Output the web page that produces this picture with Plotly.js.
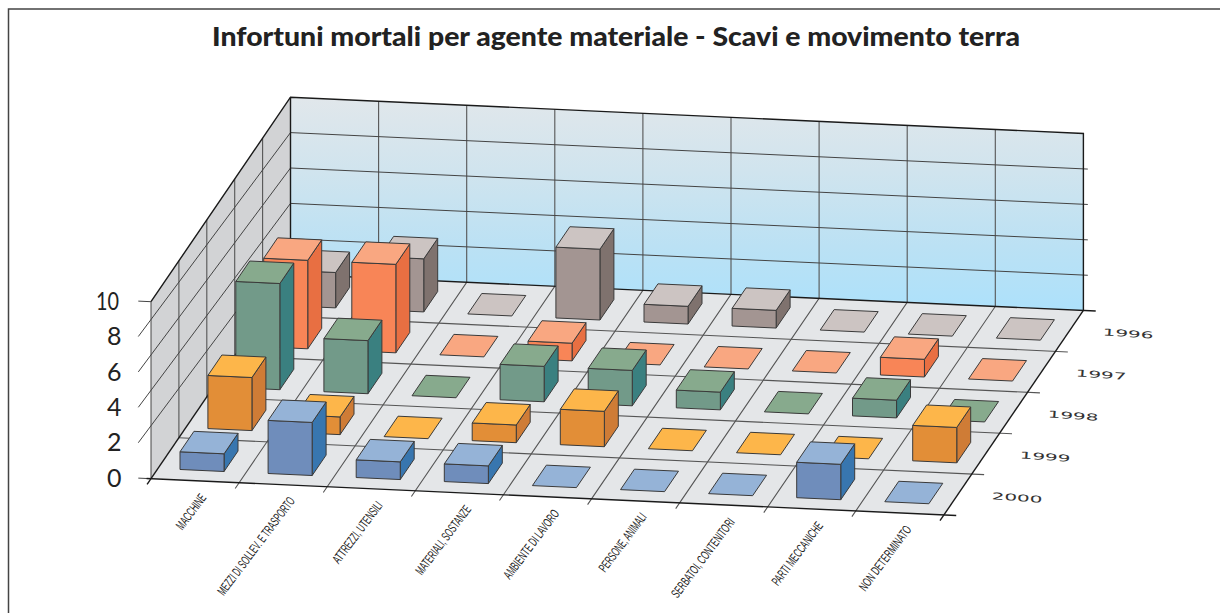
<!DOCTYPE html>
<html>
<head>
<meta charset="utf-8">
<script src="https://cdn.plot.ly/plotly-3.0.1.min.js"></script>
<style>html,body{margin:0;padding:0;background:#fff}#chart{width:1220px;height:613px}</style>
</head>
<body>
<div id="chart"></div>
<script>
const titleText = 'Infortuni mortali per agente materiale - Scavi e movimento terra';
const categories = ['MACCHINE','MEZZI DI SOLLEV. E TRASPORTO','ATTREZZI, UTENSILI','MATERIALI, SOSTANZE','AMBIENTE DI LAVORO','PERSONE, ANIMALI','SERBATOI, CONTENITORI','PARTI MECCANICHE','NON DETERMINATO'];
const years = ['2000','1999','1998','1997','1996'];
const values2000 = [1,3,1,1,0,0,0,2,0];
const values1999 = [3,1,0,1,2,0,0,0,2];
const values1998 = [6,3,0,2,2,1,0,1,0];
const values1997 = [5,5,0,1,0,0,0,1,0];
const values1996 = [2,3,0,4,1,1,0,0,0];
const zTicks = [0,2,4,6,8,10];
const rowValues = [values2000,values1999,values1998,values1997,values1996];

const palette = [
  {top:'#95B3D7',front:'#6F8DBB',side:'#3876AF'},
  {top:'#FDB64A',front:'#E28E37',side:'#CF7C36'},
  {top:'#87AA8D',front:'#729A89',side:'#3A8080'},
  {top:'#F9A781',front:'#F88557',side:'#E86F42'},
  {top:'#CCC4C2',front:'#A39592',side:'#7F726E'}
];
// drawn length of each squeezed category label, in px
const labelLengths = [41,119,74,83,83,70,96,76,78];

// Oblique projection of the chart's own axes (category, year, value) to the page
const proj = (u,v,z) => [151 + 88.1*u + 27.9*v, 478.7 + 4.03*u - 40.9*v - 17.7*z];
const nU = categories.length, nV = years.length, zMax = 10;

function polys(list){
  const x=[],y=[];
  list.forEach(p=>{ p.forEach(q=>{const a=proj(q[0],q[1],q[2]);x.push(a[0]);y.push(a[1]);}); x.push(null);y.push(null); });
  return {x,y};
}
function closed(pts){ return pts.concat([pts[0]]); }
function fillTrace(list,fill,lineColor,width,name){
  return Object.assign(polys(list),{type:'scatter',mode:'lines',fill:'toself',fillcolor:fill,
    line:{color:lineColor,width:width},hoverinfo:'skip',name:name});
}
function lineTrace(list,color,width,name){
  return Object.assign(polys(list),{type:'scatter',mode:'lines',line:{color:color,width:width},hoverinfo:'skip',name:name});
}

const traces=[];
// back wall with gradient
traces.push(Object.assign(polys([closed([[0,nV,0],[nU,nV,0],[nU,nV,zMax],[0,nV,zMax]])]),{
  type:'scatter',mode:'lines',fill:'toself',line:{color:'rgba(0,0,0,0)',width:0},hoverinfo:'skip',name:'wall',
  fillgradient:{type:'vertical',colorscale:[[0,'#ADE1FB'],[0.3,'#BBE1F4'],[0.65,'#D0E4EE'],[1,'#E1E7EB']]}
}));
traces[0].x = traces[0].x.filter(a=>a!==null); traces[0].y = traces[0].y.filter(a=>a!==null);
traces.push(fillTrace([closed([[0,0,0],[0,nV,0],[0,nV,zMax],[0,0,zMax]])],'#D2D3D5','rgba(0,0,0,0)',0,'side wall'));
traces.push(fillTrace([closed([[0,0,0],[nU,0,0],[nU,nV,0],[0,nV,0]])],'#E4E6E8','rgba(0,0,0,0)',0,'floor'));

// grid
const grid=[];
for(let i=1;i<nU;i++){ grid.push([[i,-0.14,0],[i,nV,0],[i,nV,zMax]]); }
for(let j=1;j<nV;j++){ grid.push([[0,j,0],[0,j,zMax]]); grid.push([[0,j,0],[nU+0.14,j,0]]); }
traces.push(lineTrace(grid,'#555',1.1,'grid'));
const zGrid=[];
zTicks.forEach(z=>{ if(z>0 && z<zMax) zGrid.push([[-0.144,0,z],[0,nV,z],[nU+0.05,nV,z]]); });
zGrid.push([[-0.144,0,zMax],[0,0,zMax]]);
zGrid.push([[-0.144,0,0],[0,0,0]]);
zGrid.push([[0,0,0],[0,0,zMax]]);
traces.push(lineTrace(zGrid,'#444',1,'value grid'));
// frame of the box
traces.push(lineTrace([
  [[0,0,zMax],[0,nV,zMax],[nU,nV,zMax],[nU,nV,0]],
  [[0,nV,zMax],[0,nV,0],[nU+0.14,nV,0]],
  [[0,-0.14,0],[0,0,0],[0,nV,0]],
  [[-0.05,0,0],[nU+0.14,0,0]],
  [[nU,-0.14,0],[nU,nV,0]]
],'#1a1a1a',1.4,'box'));

// bars, back to front
const lo=0.25, hi=0.75;
for(let r=nV-1;r>=0;r--){
  const fronts=[],sides=[],tops=[];
  rowValues[r].forEach((val,i)=>{
    const a=i+lo,b=i+hi,c=r+lo,d=r+hi;
    if(val>0){
      fronts.push(closed([[a,c,0],[b,c,0],[b,c,val],[a,c,val]]));
      sides.push(closed([[b,c,0],[b,d,0],[b,d,val],[b,c,val]]));
    }
    tops.push(closed([[a,c,val],[b,c,val],[b,d,val],[a,d,val]]));
  });
  const edge='#3a3a3a';
  if(sides.length) traces.push(fillTrace(sides,palette[r].side,edge,1,years[r]+' side'));
  if(fronts.length) traces.push(fillTrace(fronts,palette[r].front,edge,1,years[r]+' front'));
  traces.push(fillTrace(tops,palette[r].top,edge,1,years[r]+' top'));
}
// outer frame of the page figure
traces.push({type:'scatter',mode:'lines',x:[8.5,8.5,1220],y:[613,9,9],line:{color:'#444',width:1.5},hoverinfo:'skip',name:'frame'});

const annotations=[];
zTicks.forEach(z=>{
  const p=proj(0,0,z);
  annotations.push({x:124,y:p[1]-2,xref:'x',yref:'y',text:String(z),showarrow:false,xanchor:'right',yanchor:'middle',
    font:{family:'Lato',size:25,color:'#222'}});
});
const labelAngle=53, cosA=Math.cos(labelAngle*Math.PI/180), sinA=Math.sin(labelAngle*Math.PI/180);
categories.forEach((c,i)=>{
  const p=proj(i+0.65,0,0), L=labelLengths[i];
  annotations.push({x:p[0]-(L*cosA+10)/2,y:p[1]+12+(L*sinA+3)/2,xref:'x',yref:'y',text:c,showarrow:false,
    xanchor:'center',yanchor:'middle',textangle:-labelAngle,
    font:{family:'Liberation Sans',size:13,color:'#222'}});
});
years.forEach((t,j)=>{
  const p=proj(nU,j+0.5,0);
  annotations.push({x:p[0]+59,y:p[1]+3,xref:'x',yref:'y',text:t,showarrow:false,xanchor:'center',yanchor:'middle',textangle:4,
    font:{family:'DejaVu Sans',size:9.5,color:'#333'}});
});

const layout={
  width:1220,height:613,margin:{l:0,r:0,t:0,b:0},paper_bgcolor:'#fff',plot_bgcolor:'#fff',showlegend:false,
  title:{text:titleText,x:616/1220,xanchor:'center',y:1-37/613,yanchor:'middle',yref:'container',
    font:{family:'Lato',size:26,weight:900,color:'#222'}},
  xaxis:{range:[0,1220],visible:false,fixedrange:true},
  yaxis:{range:[613,0],visible:false,fixedrange:true},
  annotations:annotations
};
function squeeze(t,len){ t.setAttribute('textLength',String(len)); t.setAttribute('lengthAdjust','spacingAndGlyphs'); }
Plotly.newPlot('chart',traces,layout,{displayModeBar:false,staticPlot:true}).then(()=>{
  document.querySelectorAll('.annotation-text').forEach(t=>{
    const s=t.textContent;
    if(years.includes(s)) squeeze(t,51);
    if(s==='10') squeeze(t,23);
    const k=categories.indexOf(s);
    if(k>=0) squeeze(t,labelLengths[k]);
  });
  const g=document.querySelector('.gtitle');
  if(g) squeeze(g,808);
});
</script>
</body>
</html>
